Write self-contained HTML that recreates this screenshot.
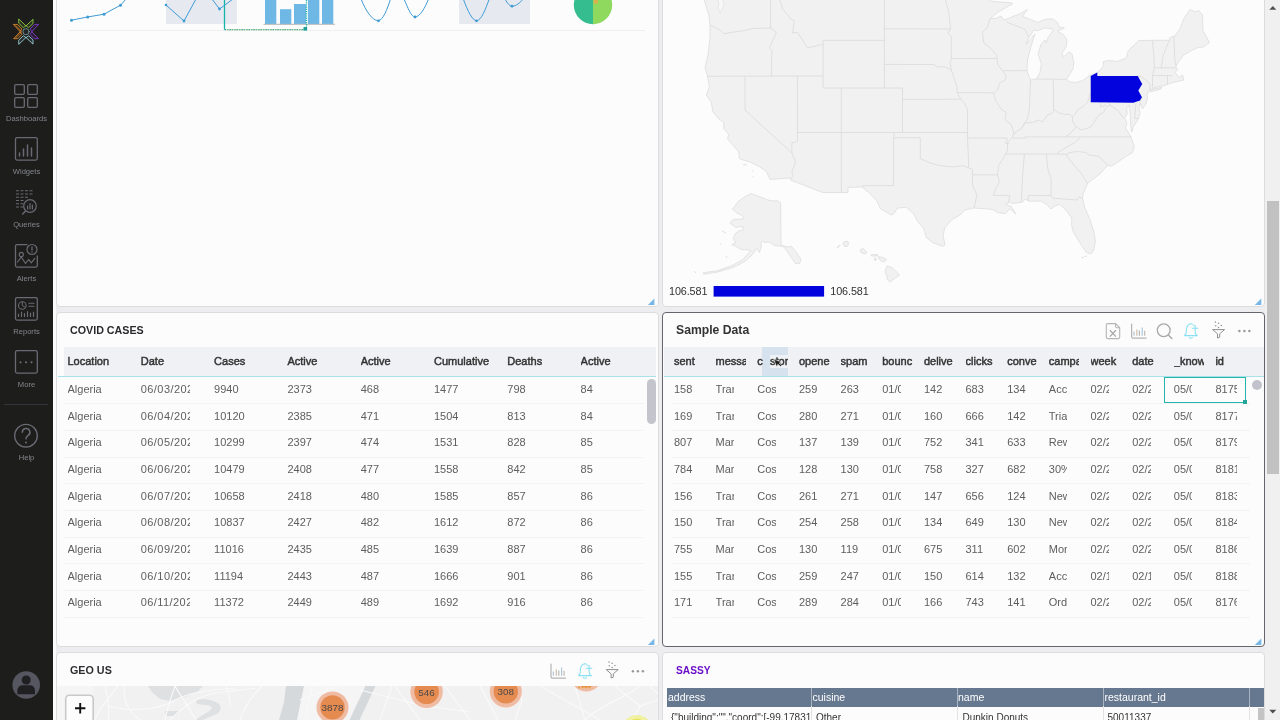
<!DOCTYPE html>
<html>
<head>
<meta charset="utf-8">
<title>Dashboard</title>
<style>
*{box-sizing:border-box;margin:0;padding:0}
html,body{width:1280px;height:720px;overflow:hidden;background:#ededef;font-family:"Liberation Sans",sans-serif;}
body{position:relative}
#root{position:absolute;left:0;top:0;width:1280px;height:720px;overflow:hidden;will-change:transform}
.abs{position:absolute}
#side{position:absolute;left:0;top:0;width:53px;height:720px;background:#1d1d1b}
#sidegap{position:absolute;left:53px;top:0;width:3px;height:720px;background:#fbfbfb}
.nav{position:absolute;left:0;width:53px;text-align:center;color:#85868e;font-size:7.6px;line-height:9px;white-space:nowrap}
.panel{position:absolute;background:#fbfcfb;border:1px solid #dcdcdc;border-radius:4px}
.ptitle{position:absolute;font-weight:bold;color:#2e2e2e;font-size:12px;line-height:14px;white-space:nowrap}
.thead{position:absolute;background:#f0f1f5;height:29px}
.hline{position:absolute;height:1px;background:#a9e1ea}
.th{position:absolute;font-weight:normal;font-size:11px;color:#333;-webkit-text-stroke:0.45px #333;white-space:nowrap;overflow:hidden;line-height:14px;height:14px}
.td{position:absolute;font-size:11px;color:#5e5e5e;white-space:nowrap;overflow:hidden;line-height:14px;height:14px}
.rline{position:absolute;height:1px;background:#f3f3f3}
.sh{color:#fff;font-size:10.5px;line-height:14px;white-space:nowrap}
.sd{color:#333;font-size:10px;line-height:12px;white-space:nowrap}
</style>
</head>
<body>
<div id="root">
<div id="side"></div><div id="sidegap"></div>
<svg class="abs" style="left:0;top:0" width="53" height="720" viewBox="0 0 53 720" fill="none" stroke-linecap="round" stroke-linejoin="round">
<!-- logo -->
<g stroke-width="0.8" transform="translate(26,31.7)">
 <path d="M-7,-12.4 L0,-5.8 L7,-12.4 L7,-8.2 L2.6,-4 L0,-6 L-2.6,-4 L-7,-8.2Z" stroke="#9fe04c" fill="#9fe04c" fill-opacity="0.10"/>
 <path d="M-12.4,-7 L-5.8,0 L-12.4,7 L-8.2,7 L-4,2.6 L-6,0 L-4,-2.6 L-8.2,-7Z" stroke="#f0932f" fill="#f0932f" fill-opacity="0.10"/>
 <path d="M-10,-6 L-4.2,0 L-10,6" stroke="#f0932f" stroke-width="0.6"/>
 <path d="M12.4,-7 L5.8,0 L12.4,7 L8.2,7 L4,2.6 L6,0 L4,-2.6 L8.2,-7Z" stroke="#8b3fe0" fill="#8b3fe0" fill-opacity="0.10"/>
 <path d="M-7,12.4 L0,5.8 L7,12.4 L7,8.2 L2.6,4 L0,6 L-2.6,4 L-7,8.2Z" stroke="#a6e2ee" fill="#a6e2ee" fill-opacity="0.10"/>
 <circle cx="0" cy="0" r="3.1" fill="#252528" stroke="#6f9a98" stroke-width="0.9"/>
</g>
<g stroke="#696a73" stroke-width="1.3">
<!-- dashboards -->
 <rect x="14.7" y="84.7" width="9.6" height="9.6" rx="1.2"/><rect x="27.7" y="84.7" width="9.6" height="9.6" rx="1.2"/>
 <rect x="14.7" y="97.7" width="9.6" height="9.6" rx="1.2"/><rect x="27.7" y="97.7" width="9.6" height="9.6" rx="1.2"/>
<!-- widgets -->
 <rect x="15.5" y="137.7" width="21.8" height="22.4" rx="1.5"/>
 <path d="M19.5,156 v-3 M23.5,156 v-7 M27.5,156 v-11 M31.5,156 v-8" stroke-width="1.5"/>
<!-- queries -->
 <g stroke-width="1.1" stroke-dasharray="3 1.5" stroke-linecap="butt"><path d="M16,190.7 h17.5 M16,194 h17.5 M16,197.2 h12 M16,200.5 h8 M16,203.7 h7.5 M16,207 h7.5"/></g>
 <circle cx="30" cy="206" r="6.3" stroke-width="1.2"/><path d="M25.5,211 l-2.8,3" stroke-width="1.4"/>
 <path d="M27.6,209 v-3 M30,209 v-5.5 M32.4,209 v-4" stroke-width="1.2"/>
<!-- alerts -->
 <path d="M27,244.7 H17 a1.5,1.5 0 0 0 -1.5,1.5 V265.6 a1.5,1.5 0 0 0 1.5,1.5 H35.8 a1.5,1.5 0 0 0 1.5,-1.5 V256" />
 <circle cx="32" cy="249.5" r="5" stroke-width="1.2"/><path d="M32,246.8 v3.2 M32,252 v0.3" stroke-width="1.3"/>
 <circle cx="21.3" cy="254.5" r="2.1" stroke-width="1.1"/>
 <path d="M17.5,262 l3.8,-5 l4.2,6.5 l3.2,-4 l2.6,3.3 l3.5,-4.5" stroke-width="1.2"/>
<!-- reports -->
 <rect x="15.5" y="297.7" width="21.8" height="22.4" rx="1.5"/>
 <circle cx="22.3" cy="305.5" r="3.8" stroke-width="1.1"/><path d="M22.3,302.5 v3 l2.3,1.5" stroke-width="1"/>
 <path d="M29,303.3 h5 M29,306.3 h5" stroke-width="1.1"/>
 <path d="M18.5,316.5 v-2.5 M21.5,316.5 v-4.5 M24.5,316.5 v-3 M27.5,316.5 v-5 M30.5,316.5 v-3.5 M33.5,316.5 v-4.5" stroke-width="1.2"/>
<!-- more -->
 <rect x="15.5" y="350.7" width="21.8" height="22.4" rx="1.5"/>
</g>
<g fill="#696a73"><circle cx="20.5" cy="362.3" r="1.1"/><circle cx="26" cy="362.3" r="1.1"/><circle cx="31.5" cy="362.3" r="1.1"/></g>
<path d="M4,404.5 H48" stroke="#34343a" stroke-width="1"/>
<!-- help -->
<circle cx="26" cy="435.7" r="11.3" stroke="#696a73" stroke-width="1.4"/>
<path d="M22.3,432.3 a3.8,3.8 0 1 1 5.6,3.3 c-1.4,0.9 -1.9,1.6 -1.9,3.2" stroke="#696a73" stroke-width="1.5"/>
<circle cx="26" cy="442.4" r="1" fill="#696a73"/>
<!-- user -->
<circle cx="26.2" cy="685" r="13.8" fill="#55565f"/>
<circle cx="26.2" cy="680" r="4.5" fill="#202023"/>
<path d="M17.4,694.2 v-4 a5,5 0 0 1 5,-5 h7.6 a5,5 0 0 1 5,5 v4Z" fill="#202023"/>
</svg>
<div class="nav" style="top:113.5px">Dashboards</div>
<div class="nav" style="top:166.5px">Widgets</div>
<div class="nav" style="top:220px">Queries</div>
<div class="nav" style="top:273.5px">Alerts</div>
<div class="nav" style="top:326.5px">Reports</div>
<div class="nav" style="top:380px">More</div>
<div class="nav" style="top:453px">Help</div>

<div class="panel" style="left:56px;top:-28px;width:603px;height:335px"></div>
<div class="panel" style="left:662px;top:-28px;width:603px;height:335px"></div>
<div class="panel" style="left:56px;top:312px;width:603px;height:335px"></div>
<div class="panel" style="left:662px;top:312px;width:603px;height:335px;border-color:#63666f"></div>
<div class="panel" style="left:56px;top:652px;width:603px;height:335px"></div>
<div class="panel" style="left:662px;top:652px;width:603px;height:335px"></div>
<svg class="abs" style="left:57px;top:0" width="601" height="40" viewBox="57 0 601 40" fill="none">
<!-- bottom divider -->
<path d="M68,30.5 H645" stroke="#efefef" stroke-width="1"/>
<!-- 1 line chart -->
<path d="M71.5,20.2 L87.5,17 L104,14.2 L120.5,5.2 L126,-1" stroke="#3f9bd6" stroke-width="1"/>
<g fill="#3f9bd6"><circle cx="71.5" cy="20.2" r="1.5"/><circle cx="87.7" cy="17" r="1.5"/><circle cx="104" cy="14.2" r="1.5"/><circle cx="120.5" cy="5.2" r="1.5"/></g>
<!-- 2 area chart -->
<rect x="166" y="0" width="71" height="24" fill="#e6eaf0"/>
<path d="M166,5 L184,21 L196,-1 M212,-1 L219.5,9 L233,-1" stroke="#3f9bd6" stroke-width="1"/>
<g fill="#3f9bd6"><circle cx="166" cy="5" r="1.3"/><circle cx="184" cy="21" r="1.4"/><circle cx="219.5" cy="9" r="1.4"/></g>
<!-- 3 bars -->
<g fill="#6fb8e6"><rect x="265" y="0" width="11.3" height="24"/><rect x="280" y="9.2" width="11.3" height="15"/><rect x="294" y="4" width="12" height="20"/><rect x="308" y="0" width="11.3" height="24"/><rect x="322" y="0" width="11.3" height="24"/></g>
<path d="M263.5,24.3 H335" stroke="#b5b5b5" stroke-width="1"/>
<!-- selection -->
<path d="M224.5,0 V29.5" stroke="#18b3a8" stroke-width="1.3"/><path d="M224.5,29.6 H304.5" stroke="#2aa8a0" stroke-width="1.3" stroke-dasharray="1.6 0.8"/><path d="M225.3,29.6 H304.5" stroke="#b9c46a" stroke-width="1.3" stroke-dasharray="0.8 1.6" stroke-dashoffset="-1.6"/>
<path d="M306.5,0 V27" stroke="#18b3a8" stroke-width="1.3" stroke-dasharray="1.2 1"/>
<rect x="303.5" y="27" width="3.6" height="3.6" fill="#1f9f97"/>
<!-- 4 curves -->
<path d="M361,-1 C366,11 372,20.3 378,20.7 C383,20.3 387,10 390.5,-1 M404,-1 C408,8 411,16.6 415,17.2 C420,16.6 425,8 428.5,-1" stroke="#3f9bd6" stroke-width="1"/>
<g fill="#3f9bd6"><circle cx="378.5" cy="20.8" r="1.4"/><circle cx="415" cy="17" r="1.4"/></g>
<!-- 5 area curves -->
<rect x="459" y="0" width="71" height="24" fill="#e6eaf0"/>
<path d="M463.3,-1 C468,12 472.5,20.4 476.6,20.8 C481.5,20.4 485.5,9 489.3,-1 M505,-1 C507.5,3.5 509.5,6 512.2,6.3 C516,6 520,3 523,-1" stroke="#3f9bd6" stroke-width="1"/>
<g fill="#3f9bd6"><circle cx="476.5" cy="20.8" r="1.4"/><circle cx="512" cy="6.2" r="1.4"/></g>
<!-- 6 pie -->
<path d="M593,-15 V24.2 A19.2,19.2 0 0 1 593,-14.2Z" fill="#35bd8f"/>
<path d="M593,-15 V24.2 A19.2,19.2 0 0 0 593,-14.2Z" fill="#8fd95f"/>
<path d="M593.5,0 h4.5 v3.5 h-4.5Z" fill="#d9b04c"/>
</svg>

<svg class="abs" style="left:663px;top:0" width="601" height="306" viewBox="663 0 601 306" fill="none" stroke-linejoin="round">
<path d="M703.8,-2.0 L987.0,-2.0 L990.0,1.0 L1000.0,2.0 L1010.0,2.6 L1013.0,3.6 L1005.0,8.0 L997.5,12.5 L990.0,18.8 L996.0,18.3 L1001.0,16.0 L1003.8,20.0 L1006.0,19.4 L1013.0,16.5 L1020.0,13.8 L1027.5,9.4 L1022.5,16.3 L1028.8,18.8 L1037.5,22.5 L1045.0,19.4 L1052.5,18.8 L1057.5,22.5 L1059.4,26.9 L1064.4,28.0 L1057.5,31.3 L1063.8,35.0 L1066.9,40.0 L1066.3,46.3 L1062.5,52.5 L1061.9,55.6 L1064.4,56.3 L1068.8,51.9 L1071.9,53.8 L1073.8,62.5 L1073.0,68.8 L1070.0,73.8 L1066.9,78.8 L1066.3,79.4 L1070.0,81.9 L1076.3,82.5 L1082.5,80.6 L1090.6,75.0 L1097.5,72.5 L1102.5,67.5 L1103.8,64.0 L1103.0,61.9 L1107.5,60.6 L1117.5,61.3 L1126.3,58.0 L1128.0,51.3 L1133.0,46.0 L1138.8,40.6 L1152.5,40.3 L1169.4,40.3 L1170.0,37.5 L1174.4,36.3 L1180.0,28.8 L1183.8,18.8 L1190.0,9.4 L1195.0,11.9 L1198.8,10.6 L1202.5,15.0 L1203.0,31.3 L1206.3,36.3 L1209.4,42.5 L1203.8,46.9 L1198.0,47.5 L1192.5,50.0 L1183.8,55.0 L1178.8,61.3 L1175.6,66.3 L1177.5,69.4 L1175.0,72.5 L1178.8,77.5 L1182.5,75.0 L1183.8,80.0 L1178.8,81.3 L1172.5,82.5 L1166.3,85.0 L1155.0,87.5 L1150.0,90.0 L1156.0,88.6 L1162.0,87.3 L1161.0,89.0 L1151.0,91.8 L1148.9,90.5 L1146.7,95.6 L1147.8,97.8 L1145.6,104.4 L1142.2,108.9 L1141.2,104.5 L1140.2,103.0 L1138.8,107.0 L1140.0,113.3 L1137.8,120.0 L1133.3,126.7 L1131.7,132.2 L1130.6,124.0 L1130.2,114.0 L1129.0,105.0 L1126.6,108.0 L1127.2,114.0 L1124.5,118.0 L1127.0,123.0 L1125.5,128.0 L1128.0,132.0 L1130.6,136.3 L1134.4,146.3 L1132.5,152.5 L1126.3,156.3 L1118.8,161.3 L1111.3,166.3 L1107.6,165.3 L1100.0,173.8 L1087.8,183.0 L1083.2,193.6 L1082.4,198.2 L1084.7,207.4 L1090.0,219.6 L1093.9,231.8 L1095.4,241.0 L1093.9,250.0 L1090.8,254.0 L1086.3,252.4 L1081.7,245.6 L1077.0,238.0 L1073.3,231.8 L1071.7,225.7 L1071.7,218.0 L1066.4,210.4 L1059.5,204.3 L1055.0,206.0 L1051.0,208.9 L1046.5,204.3 L1040.4,201.0 L1029.7,201.3 L1025.0,199.0 L1022.8,202.0 L1016.0,203.0 L1011.4,203.5 L1009.9,202.0 L1005.3,204.3 L1011.4,206.6 L1016.0,214.2 L1009.9,208.9 L1005.3,213.5 L997.6,212.7 L992.5,209.4 L985.0,208.8 L973.8,208.0 L965.0,210.0 L960.0,215.0 L951.3,220.0 L945.0,227.5 L943.0,235.0 L945.0,245.0 L942.5,246.3 L932.5,242.5 L926.3,237.5 L923.8,228.8 L917.5,221.3 L913.8,213.8 L906.3,207.3 L897.5,208.0 L893.8,213.8 L891.3,215.0 L880.6,208.8 L876.3,200.0 L868.8,192.5 L862.0,187.0 L848.0,187.4 L848.0,192.5 L822.5,192.5 L790.6,180.0 L790.6,178.0 L770.0,179.4 L766.3,171.3 L758.8,166.3 L750.0,162.0 L739.4,158.8 L738.8,152.0 L727.5,138.8 L728.8,134.4 L723.8,128.8 L723.8,122.5 L718.8,118.8 L713.0,112.0 L711.3,102.5 L706.3,95.0 L709.4,86.3 L707.5,76.0 L705.0,67.5 L708.0,55.0 L710.0,37.5 L710.0,25.0 L708.8,15.0 L706.0,6.0Z" fill="#f0f1f0" stroke="#dcdddc" stroke-width="0.8"/>
<path d="M1052.5,29.0 L1045.0,28.0 L1037.5,30.6 L1033.8,30.0 L1030.0,36.3 L1028.8,37.5 L1026.0,44.4 L1031.0,38.5 L1035.0,33.8 L1032.0,43.0 L1030.0,50.0 L1027.5,60.0 L1026.9,70.0 L1028.8,76.3 L1031.3,80.0 L1036.3,78.8 L1040.0,72.5 L1041.3,63.8 L1038.0,53.8 L1041.3,43.8 L1045.0,40.0 L1046.3,43.0 L1048.0,37.5 L1052.5,31.3 L1053.0,29.4Z" fill="#fbfcfb" stroke="#dcdddc" stroke-width="0.8"/>
<path d="M717.0,-2.0 L719.0,3.0 L718.0,8.0 L720.5,13.0 L722.0,9.0 L724.0,5.0 L723.0,-2.0Z" fill="#f6f7f6" stroke="#dcdddc" stroke-width="0.6"/>
<path d="M751.1,193.5 L756.0,195.5 L762.2,197.6 L767.0,199.8 L773.3,201.1 L776.5,200.6 L780.6,202.7 L781.0,244.9 L787.2,247.0 L791.4,246.3 L796.0,252.0 L801.0,259.4 L799.7,263.6 L795.6,263.6 L791.0,257.0 L787.2,251.0 L783.0,246.3 L774.7,245.6 L769.2,242.0 L765.5,242.6 L762.2,241.4 L760.8,243.0 L761.5,246.0 L759.4,252.5 L757.8,250.0 L756.7,248.3 L752.0,255.0 L745.6,260.8 L739.0,264.7 L731.7,267.8 L717.8,272.0 L703.9,274.3 L703.0,272.8 L717.8,270.6 L731.7,265.7 L737.5,262.6 L742.8,259.4 L747.0,255.0 L751.1,250.4 L745.6,249.7 L741.4,249.7 L737.5,247.5 L734.4,245.6 L731.7,244.9 L733.5,243.5 L735.8,242.8 L733.0,238.6 L735.8,233.0 L739.0,231.0 L742.8,230.3 L743.2,226.8 L739.0,226.6 L735.8,227.5 L730.3,223.3 L732.0,220.5 L734.4,219.2 L742.8,219.2 L743.0,216.5 L740.0,214.3 L736.0,212.5 L732.4,208.8 L735.0,206.3 L738.6,201.1 L745.6,196.3Z" fill="#f0f1f0" stroke="#dcdddc" stroke-width="0.8"/>
<path d="M837.0,247.5 L839.6,245.0 L840.0,245.5 L837.5,248.0Z M843.0,243.0 L845.0,241.3 L847.8,241.5 L848.6,243.8 L847.3,246.3 L844.5,246.5Z M860.0,250.0 L863.3,248.3 L865.0,250.5 L867.0,252.5 L865.0,253.8 L861.7,253.0Z M871.3,254.6 L877.5,254.6 L877.5,256.0 L871.3,256.0Z M874.4,258.3 L876.4,258.5 L876.2,260.2 L874.6,260.2Z M878.3,256.7 L883.3,257.5 L886.7,259.6 L884.2,262.0 L881.7,261.3 L879.2,259.2Z M887.0,265.8 L892.5,268.0 L896.0,271.5 L899.6,275.0 L895.0,278.3 L890.0,282.0 L887.5,280.0 L886.7,275.0 L885.0,271.7Z" fill="#f0f1f0" stroke="#dcdddc" stroke-width="0.8"/>
<path d="M710.0,25.0 L720.0,30.0 L723.8,33.8 L733.8,32.0 L743.8,30.6 L752.5,28.5 L771.3,28.0 M770.6,-2.0 L770.6,28.0 L776.3,32.5 L769.4,48.0 L771.9,50.6 L771.3,76.0 M707.5,76.3 L745.0,76.2 L797.4,76.0 L823.1,76.0 M779.4,-2.0 L782.5,8.8 L791.3,19.4 L794.4,20.6 L792.5,33.0 L797.5,32.3 L807.5,48.0 L821.9,44.4 L823.1,46.0 M823.1,40.4 L823.1,88.0 M823.1,40.4 L884.4,40.4 M884.4,-2.0 L884.4,88.0 M823.1,88.0 L902.5,88.0 L902.5,132.5 M745.0,76.2 L745.0,110.0 L791.9,153.0 M797.4,76.0 L797.5,141.3 L795.0,142.0 L791.9,143.0 L791.9,153.0 L795.6,162.0 L792.0,171.3 L792.5,177.0 L790.6,178.8 M797.5,132.5 L841.3,132.5 L902.5,132.5 L967.5,132.5 M841.3,88.0 L841.3,192.5 M884.4,28.8 L950.6,29.0 M884.4,64.4 L933.8,64.5 L937.5,66.9 L945.0,66.9 L951.3,70.0 M945.0,-2.0 L948.8,12.5 L950.6,28.8 L948.0,33.0 L951.3,37.0 L951.3,58.8 L950.0,62.5 L951.3,70.0 L953.8,77.5 L956.9,86.0 L957.3,92.5 L960.6,99.0 L964.4,103.0 L967.5,109.4 L967.5,138.0 L968.8,168.0 M951.3,58.6 L996.9,58.5 M990.0,18.8 L987.5,26.9 L982.5,32.5 L983.8,43.0 L991.3,48.8 L996.9,55.6 L996.9,58.5 L998.0,65.0 L1003.0,71.3 L1006.3,76.3 L1005.0,80.0 L999.4,83.5 L998.0,89.4 L993.8,93.0 L995.6,100.6 L1001.9,110.0 L1006.3,112.5 L1005.0,119.4 L1011.3,125.0 L1013.8,132.5 L1012.5,137.5 L1007.5,142.5 L1007.5,150.0 L1003.8,157.5 L998.8,165.0 L997.5,175.0 L999.4,182.0 L995.6,188.8 L993.4,195.4 M1003.0,70.7 L1027.0,70.6 M1006.3,21.9 L1025.0,29.4 L1027.5,35.0 L1028.8,37.5 M957.3,92.6 L993.8,92.8 M902.5,99.4 L960.6,99.2 M1030.6,79.6 L1029.4,108.8 L1028.0,117.5 L1025.0,122.5 L1021.3,128.8 M1036.3,79.0 L1066.3,79.4 M1053.3,79.3 L1053.6,109.4 M1013.8,135.0 L1016.3,131.3 L1021.3,128.8 L1025.0,123.0 L1032.5,122.5 L1038.8,120.0 L1042.5,122.0 L1047.5,115.0 L1052.5,113.0 L1053.8,109.4 L1058.8,113.0 L1065.0,114.4 L1070.0,114.4 L1072.5,117.0 L1075.0,114.4 L1077.5,110.0 L1082.5,106.9 L1087.5,102.5 L1089.4,96.3 L1090.6,92.0 M1090.6,75.0 L1090.6,102.5 M1072.5,117.0 L1072.5,121.3 L1076.3,126.9 L1070.0,133.8 L1065.0,136.9 M1076.3,126.9 L1081.3,130.0 L1090.0,127.5 L1093.8,122.5 L1098.8,115.0 L1103.8,112.0 L1106.3,107.5 L1110.0,105.0 L1108.8,102.5 M1100.6,102.5 L1100.6,107.0 L1106.3,105.0 M1110.0,105.0 L1118.8,111.3 L1123.8,118.8 M1136.0,102.6 L1134.6,118.3 L1138.6,118.6 M1012.5,138.1 L1025.0,138.1 L1025.0,136.9 L1131.3,136.9 M1080.0,137.5 L1075.0,142.5 L1065.0,148.0 L1058.8,152.0 L1057.5,154.0 M1006.0,154.0 L1057.5,154.0 L1066.3,154.4 M1066.3,154.4 L1070.0,152.5 L1077.5,151.5 L1086.3,152.5 L1088.8,155.0 L1098.8,156.3 L1107.6,165.3 M1066.3,154.4 L1068.0,157.5 L1075.0,166.3 L1081.7,173.8 L1087.5,183.4 M1024.4,154.0 L1023.0,170.0 L1021.3,201.3 M1046.3,154.4 L1048.0,170.0 L1051.1,178.3 L1051.1,195.4 M1028.2,201.0 L1028.2,195.4 L1051.1,195.6 L1052.6,198.2 L1077.0,200.0 L1078.6,197.4 L1082.4,198.2 M967.5,138.0 L1006.9,138.0 L1007.5,140.0 L1005.0,143.0 L1009.0,143.6 M972.5,174.8 L997.5,174.8 M993.4,195.4 L1009.9,195.4 L1008.3,202.8 M893.8,132.5 L893.8,137.8 L920.3,137.8 L920.3,158.8 L925.0,160.6 L930.0,163.0 L940.0,165.6 L946.3,166.3 L953.8,166.9 L962.5,165.6 L968.8,168.0 L972.5,169.4 L972.5,185.0 L976.9,195.0 L975.0,203.8 L973.8,208.0 M893.6,137.8 L893.5,185.6 L862.5,185.6 L862.0,187.0 M1152.5,40.3 L1153.8,56.3 L1154.4,68.0 L1152.5,75.0 L1152.5,87.8 M1169.4,40.3 L1166.3,47.5 L1163.0,56.3 L1161.3,67.7 M1174.4,36.3 L1173.8,38.0 L1175.0,61.3 L1176.3,66.3 M1154.4,67.8 L1175.6,67.8 M1152.5,75.6 L1172.5,75.6 M1167.5,75.6 L1167.5,84.5 M1137.5,76.0 L1141.0,76.5 L1146.0,80.0 L1150.0,84.0 L1150.0,90.0 M1141.9,83.8 L1138.0,91.3 L1141.9,97.5 L1139.4,102.5 L1141.0,106.0" stroke="#dcdddc" stroke-width="0.9"/>
<path d="M1090.8,76.1 L1097.3,72.6 L1097.3,76.1 L1137.8,76.1 L1139.4,78.9 L1142.2,83.9 L1138.3,90.6 L1141.9,97.2 L1140.0,100.6 L1133.3,102.7 L1090.8,102.3Z" fill="#0303de"/>
<path d="M743,164.8 h4 M752,170.5 l1.5,1 M752.5,176 l1,1.2 M1081.5,257.8 l2.5,-0.8 M1085,256.6 l2,-0.6 M722,231 l4,2 M720,243.5 l1.5,1 M726,256 l1,2 M694,271 l2,2" stroke="#dcdddc" stroke-width="0.9"/>
<rect x="713.6" y="286" width="110.5" height="10.6" fill="#0303de"/>
</svg>
<div class="abs" style="left:669px;top:284.5px;font-size:10.8px;line-height:13px;color:#303030;letter-spacing:-0.1px">106.581</div>
<div class="abs" style="left:830.3px;top:284.5px;font-size:10.8px;line-height:13px;color:#303030;letter-spacing:-0.1px">106.581</div>
<div class="ptitle" style="left:70px;top:322.5px;font-size:11.8px;color:#2a2a2e;transform:scaleX(0.907);transform-origin:0 0">COVID CASES</div>
<div class="thead" style="left:64px;top:347px;width:592px"></div>
<div class="hline" style="left:58px;top:376.4px;width:598px"></div>
<div class="th" style="left:67.5px;top:354px;width:60px">Location</div>
<div class="th" style="left:140.8px;top:354px;width:60px">Date</div>
<div class="th" style="left:214.1px;top:354px;width:60px">Cases</div>
<div class="th" style="left:287.4px;top:354px;width:60px">Active</div>
<div class="th" style="left:360.7px;top:354px;width:60px">Active</div>
<div class="th" style="left:434.0px;top:354px;width:60px">Cumulative</div>
<div class="th" style="left:507.3px;top:354px;width:60px">Deaths</div>
<div class="th" style="left:580.6px;top:354px;width:60px">Active</div>
<div class="td" style="left:67.5px;top:381.9px;width:49.6px;">Algeria</div>
<div class="td" style="left:140.8px;top:381.9px;width:49.6px; letter-spacing:0.42px;">06/03/2020</div>
<div class="td" style="left:214.1px;top:381.9px;width:49.6px;">9940</div>
<div class="td" style="left:287.4px;top:381.9px;width:49.6px;">2373</div>
<div class="td" style="left:360.7px;top:381.9px;width:49.6px;">468</div>
<div class="td" style="left:434.0px;top:381.9px;width:49.6px;">1477</div>
<div class="td" style="left:507.3px;top:381.9px;width:49.6px;">798</div>
<div class="td" style="left:580.6px;top:381.9px;width:49.6px;">84</div>
<div class="rline" style="left:64px;top:403.2px;width:580px"></div>
<div class="td" style="left:67.5px;top:408.6px;width:49.6px;">Algeria</div>
<div class="td" style="left:140.8px;top:408.6px;width:49.6px; letter-spacing:0.42px;">06/04/2020</div>
<div class="td" style="left:214.1px;top:408.6px;width:49.6px;">10120</div>
<div class="td" style="left:287.4px;top:408.6px;width:49.6px;">2385</div>
<div class="td" style="left:360.7px;top:408.6px;width:49.6px;">471</div>
<div class="td" style="left:434.0px;top:408.6px;width:49.6px;">1504</div>
<div class="td" style="left:507.3px;top:408.6px;width:49.6px;">813</div>
<div class="td" style="left:580.6px;top:408.6px;width:49.6px;">84</div>
<div class="rline" style="left:64px;top:429.8px;width:580px"></div>
<div class="td" style="left:67.5px;top:435.2px;width:49.6px;">Algeria</div>
<div class="td" style="left:140.8px;top:435.2px;width:49.6px; letter-spacing:0.42px;">06/05/2020</div>
<div class="td" style="left:214.1px;top:435.2px;width:49.6px;">10299</div>
<div class="td" style="left:287.4px;top:435.2px;width:49.6px;">2397</div>
<div class="td" style="left:360.7px;top:435.2px;width:49.6px;">474</div>
<div class="td" style="left:434.0px;top:435.2px;width:49.6px;">1531</div>
<div class="td" style="left:507.3px;top:435.2px;width:49.6px;">828</div>
<div class="td" style="left:580.6px;top:435.2px;width:49.6px;">85</div>
<div class="rline" style="left:64px;top:456.5px;width:580px"></div>
<div class="td" style="left:67.5px;top:461.9px;width:49.6px;">Algeria</div>
<div class="td" style="left:140.8px;top:461.9px;width:49.6px; letter-spacing:0.42px;">06/06/2020</div>
<div class="td" style="left:214.1px;top:461.9px;width:49.6px;">10479</div>
<div class="td" style="left:287.4px;top:461.9px;width:49.6px;">2408</div>
<div class="td" style="left:360.7px;top:461.9px;width:49.6px;">477</div>
<div class="td" style="left:434.0px;top:461.9px;width:49.6px;">1558</div>
<div class="td" style="left:507.3px;top:461.9px;width:49.6px;">842</div>
<div class="td" style="left:580.6px;top:461.9px;width:49.6px;">85</div>
<div class="rline" style="left:64px;top:483.2px;width:580px"></div>
<div class="td" style="left:67.5px;top:488.6px;width:49.6px;">Algeria</div>
<div class="td" style="left:140.8px;top:488.6px;width:49.6px; letter-spacing:0.42px;">06/07/2020</div>
<div class="td" style="left:214.1px;top:488.6px;width:49.6px;">10658</div>
<div class="td" style="left:287.4px;top:488.6px;width:49.6px;">2418</div>
<div class="td" style="left:360.7px;top:488.6px;width:49.6px;">480</div>
<div class="td" style="left:434.0px;top:488.6px;width:49.6px;">1585</div>
<div class="td" style="left:507.3px;top:488.6px;width:49.6px;">857</div>
<div class="td" style="left:580.6px;top:488.6px;width:49.6px;">86</div>
<div class="rline" style="left:64px;top:509.9px;width:580px"></div>
<div class="td" style="left:67.5px;top:515.2px;width:49.6px;">Algeria</div>
<div class="td" style="left:140.8px;top:515.2px;width:49.6px; letter-spacing:0.42px;">06/08/2020</div>
<div class="td" style="left:214.1px;top:515.2px;width:49.6px;">10837</div>
<div class="td" style="left:287.4px;top:515.2px;width:49.6px;">2427</div>
<div class="td" style="left:360.7px;top:515.2px;width:49.6px;">482</div>
<div class="td" style="left:434.0px;top:515.2px;width:49.6px;">1612</div>
<div class="td" style="left:507.3px;top:515.2px;width:49.6px;">872</div>
<div class="td" style="left:580.6px;top:515.2px;width:49.6px;">86</div>
<div class="rline" style="left:64px;top:536.5px;width:580px"></div>
<div class="td" style="left:67.5px;top:541.9px;width:49.6px;">Algeria</div>
<div class="td" style="left:140.8px;top:541.9px;width:49.6px; letter-spacing:0.42px;">06/09/2020</div>
<div class="td" style="left:214.1px;top:541.9px;width:49.6px;">11016</div>
<div class="td" style="left:287.4px;top:541.9px;width:49.6px;">2435</div>
<div class="td" style="left:360.7px;top:541.9px;width:49.6px;">485</div>
<div class="td" style="left:434.0px;top:541.9px;width:49.6px;">1639</div>
<div class="td" style="left:507.3px;top:541.9px;width:49.6px;">887</div>
<div class="td" style="left:580.6px;top:541.9px;width:49.6px;">86</div>
<div class="rline" style="left:64px;top:563.2px;width:580px"></div>
<div class="td" style="left:67.5px;top:568.6px;width:49.6px;">Algeria</div>
<div class="td" style="left:140.8px;top:568.6px;width:49.6px; letter-spacing:0.42px;">06/10/2020</div>
<div class="td" style="left:214.1px;top:568.6px;width:49.6px;">11194</div>
<div class="td" style="left:287.4px;top:568.6px;width:49.6px;">2443</div>
<div class="td" style="left:360.7px;top:568.6px;width:49.6px;">487</div>
<div class="td" style="left:434.0px;top:568.6px;width:49.6px;">1666</div>
<div class="td" style="left:507.3px;top:568.6px;width:49.6px;">901</div>
<div class="td" style="left:580.6px;top:568.6px;width:49.6px;">86</div>
<div class="rline" style="left:64px;top:589.9px;width:580px"></div>
<div class="td" style="left:67.5px;top:595.3px;width:49.6px;">Algeria</div>
<div class="td" style="left:140.8px;top:595.3px;width:49.6px; letter-spacing:0.42px;">06/11/2020</div>
<div class="td" style="left:214.1px;top:595.3px;width:49.6px;">11372</div>
<div class="td" style="left:287.4px;top:595.3px;width:49.6px;">2449</div>
<div class="td" style="left:360.7px;top:595.3px;width:49.6px;">489</div>
<div class="td" style="left:434.0px;top:595.3px;width:49.6px;">1692</div>
<div class="td" style="left:507.3px;top:595.3px;width:49.6px;">916</div>
<div class="td" style="left:580.6px;top:595.3px;width:49.6px;">86</div>
<div class="rline" style="left:64px;top:616.5px;width:580px"></div>
<div class="abs" style="left:647px;top:379px;width:9px;height:45px;border-radius:4.5px;background:#c4c4cc"></div>
<div class="ptitle" style="left:676px;top:323px;font-size:12.2px;color:#333">Sample Data</div>
<div class="thead" style="left:664px;top:347px;width:600px"></div>
<div class="hline" style="left:664px;top:376.4px;width:600px"></div>
<div class="abs" style="left:762px;top:347px;width:25.5px;height:29px;background:#d6e3ef"></div>
<div class="abs" style="left:770px;top:354.5px;width:17.5px;height:13.5px;background:#eef1f6"></div>
<div class="th" style="left:674.0px;top:354px;width:30.5px">sent</div>
<div class="th" style="left:715.6px;top:354px;width:30.5px">messa</div>
<div class="th" style="left:757.3px;top:354px;width:30.5px">c</div>
<div class="th" style="left:799.0px;top:354px;width:30.5px">opene</div>
<div class="th" style="left:840.6px;top:354px;width:30.5px">spam</div>
<div class="th" style="left:882.2px;top:354px;width:30.5px">bounc</div>
<div class="th" style="left:923.9px;top:354px;width:30.5px">delive</div>
<div class="th" style="left:965.5px;top:354px;width:30.5px">clicks</div>
<div class="th" style="left:1007.2px;top:354px;width:30.5px">conve</div>
<div class="th" style="left:1048.8px;top:354px;width:30.5px">campa</div>
<div class="th" style="left:1090.5px;top:354px;width:30.5px">week</div>
<div class="th" style="left:1132.2px;top:354px;width:30.5px">date</div>
<div class="th" style="left:1173.8px;top:354px;width:30.5px">_know</div>
<div class="th" style="left:1215.4px;top:354px;width:30.5px">id</div>
<div class="th" style="left:770px;top:354px;width:17.5px">stor</div>
<svg class="abs" style="left:772px;top:355px" width="14" height="14" viewBox="0 0 14 14"><path d="M3 3 L3 11 L5.2 9 L6.8 12.2 L8.2 11.5 L6.7 8.4 L9.6 8.2Z" fill="#222" stroke="#fff" stroke-width="0.5" transform="rotate(-20 6 7)"/></svg>
<div class="td" style="left:674.0px;top:381.9px;width:18.5px">158</div>
<div class="td" style="left:715.6px;top:381.9px;width:18.5px">Trans</div>
<div class="td" style="left:757.3px;top:381.9px;width:18.5px">Cost</div>
<div class="td" style="left:799.0px;top:381.9px;width:18.5px">259</div>
<div class="td" style="left:840.6px;top:381.9px;width:18.5px">263</div>
<div class="td" style="left:882.2px;top:381.9px;width:18.5px">01/0</div>
<div class="td" style="left:923.9px;top:381.9px;width:18.5px">142</div>
<div class="td" style="left:965.5px;top:381.9px;width:18.5px">683</div>
<div class="td" style="left:1007.2px;top:381.9px;width:18.5px">134</div>
<div class="td" style="left:1048.8px;top:381.9px;width:18.5px">Acco</div>
<div class="td" style="left:1090.5px;top:381.9px;width:18.5px">02/2</div>
<div class="td" style="left:1132.2px;top:381.9px;width:18.5px">02/2</div>
<div class="td" style="left:1173.8px;top:381.9px;width:18.5px">05/0</div>
<div class="td" style="left:1215.4px;top:381.9px;width:22px">81751</div>
<div class="rline" style="left:672px;top:403.2px;width:578px"></div>
<div class="td" style="left:674.0px;top:408.6px;width:18.5px">169</div>
<div class="td" style="left:715.6px;top:408.6px;width:18.5px">Trans</div>
<div class="td" style="left:757.3px;top:408.6px;width:18.5px">Cost</div>
<div class="td" style="left:799.0px;top:408.6px;width:18.5px">280</div>
<div class="td" style="left:840.6px;top:408.6px;width:18.5px">271</div>
<div class="td" style="left:882.2px;top:408.6px;width:18.5px">01/0</div>
<div class="td" style="left:923.9px;top:408.6px;width:18.5px">160</div>
<div class="td" style="left:965.5px;top:408.6px;width:18.5px">666</div>
<div class="td" style="left:1007.2px;top:408.6px;width:18.5px">142</div>
<div class="td" style="left:1048.8px;top:408.6px;width:18.5px">Tria</div>
<div class="td" style="left:1090.5px;top:408.6px;width:18.5px">02/2</div>
<div class="td" style="left:1132.2px;top:408.6px;width:18.5px">02/2</div>
<div class="td" style="left:1173.8px;top:408.6px;width:18.5px">05/0</div>
<div class="td" style="left:1215.4px;top:408.6px;width:22px">81772</div>
<div class="rline" style="left:672px;top:429.8px;width:578px"></div>
<div class="td" style="left:674.0px;top:435.2px;width:18.5px">807</div>
<div class="td" style="left:715.6px;top:435.2px;width:18.5px">Mark</div>
<div class="td" style="left:757.3px;top:435.2px;width:18.5px">Cost</div>
<div class="td" style="left:799.0px;top:435.2px;width:18.5px">137</div>
<div class="td" style="left:840.6px;top:435.2px;width:18.5px">139</div>
<div class="td" style="left:882.2px;top:435.2px;width:18.5px">01/0</div>
<div class="td" style="left:923.9px;top:435.2px;width:18.5px">752</div>
<div class="td" style="left:965.5px;top:435.2px;width:18.5px">341</div>
<div class="td" style="left:1007.2px;top:435.2px;width:18.5px">633</div>
<div class="td" style="left:1048.8px;top:435.2px;width:18.5px">Rewa</div>
<div class="td" style="left:1090.5px;top:435.2px;width:18.5px">02/2</div>
<div class="td" style="left:1132.2px;top:435.2px;width:18.5px">02/2</div>
<div class="td" style="left:1173.8px;top:435.2px;width:18.5px">05/0</div>
<div class="td" style="left:1215.4px;top:435.2px;width:22px">81793</div>
<div class="rline" style="left:672px;top:456.5px;width:578px"></div>
<div class="td" style="left:674.0px;top:461.9px;width:18.5px">784</div>
<div class="td" style="left:715.6px;top:461.9px;width:18.5px">Mark</div>
<div class="td" style="left:757.3px;top:461.9px;width:18.5px">Cost</div>
<div class="td" style="left:799.0px;top:461.9px;width:18.5px">128</div>
<div class="td" style="left:840.6px;top:461.9px;width:18.5px">130</div>
<div class="td" style="left:882.2px;top:461.9px;width:18.5px">01/0</div>
<div class="td" style="left:923.9px;top:461.9px;width:18.5px">758</div>
<div class="td" style="left:965.5px;top:461.9px;width:18.5px">327</div>
<div class="td" style="left:1007.2px;top:461.9px;width:18.5px">682</div>
<div class="td" style="left:1048.8px;top:461.9px;width:18.5px">30% </div>
<div class="td" style="left:1090.5px;top:461.9px;width:18.5px">02/2</div>
<div class="td" style="left:1132.2px;top:461.9px;width:18.5px">02/2</div>
<div class="td" style="left:1173.8px;top:461.9px;width:18.5px">05/0</div>
<div class="td" style="left:1215.4px;top:461.9px;width:22px">81811</div>
<div class="rline" style="left:672px;top:483.2px;width:578px"></div>
<div class="td" style="left:674.0px;top:488.6px;width:18.5px">156</div>
<div class="td" style="left:715.6px;top:488.6px;width:18.5px">Trans</div>
<div class="td" style="left:757.3px;top:488.6px;width:18.5px">Cost</div>
<div class="td" style="left:799.0px;top:488.6px;width:18.5px">261</div>
<div class="td" style="left:840.6px;top:488.6px;width:18.5px">271</div>
<div class="td" style="left:882.2px;top:488.6px;width:18.5px">01/0</div>
<div class="td" style="left:923.9px;top:488.6px;width:18.5px">147</div>
<div class="td" style="left:965.5px;top:488.6px;width:18.5px">656</div>
<div class="td" style="left:1007.2px;top:488.6px;width:18.5px">124</div>
<div class="td" style="left:1048.8px;top:488.6px;width:18.5px">New </div>
<div class="td" style="left:1090.5px;top:488.6px;width:18.5px">02/2</div>
<div class="td" style="left:1132.2px;top:488.6px;width:18.5px">02/2</div>
<div class="td" style="left:1173.8px;top:488.6px;width:18.5px">05/0</div>
<div class="td" style="left:1215.4px;top:488.6px;width:22px">81836</div>
<div class="rline" style="left:672px;top:509.9px;width:578px"></div>
<div class="td" style="left:674.0px;top:515.2px;width:18.5px">150</div>
<div class="td" style="left:715.6px;top:515.2px;width:18.5px">Trans</div>
<div class="td" style="left:757.3px;top:515.2px;width:18.5px">Cost</div>
<div class="td" style="left:799.0px;top:515.2px;width:18.5px">254</div>
<div class="td" style="left:840.6px;top:515.2px;width:18.5px">258</div>
<div class="td" style="left:882.2px;top:515.2px;width:18.5px">01/0</div>
<div class="td" style="left:923.9px;top:515.2px;width:18.5px">134</div>
<div class="td" style="left:965.5px;top:515.2px;width:18.5px">649</div>
<div class="td" style="left:1007.2px;top:515.2px;width:18.5px">130</div>
<div class="td" style="left:1048.8px;top:515.2px;width:18.5px">New </div>
<div class="td" style="left:1090.5px;top:515.2px;width:18.5px">02/2</div>
<div class="td" style="left:1132.2px;top:515.2px;width:18.5px">02/2</div>
<div class="td" style="left:1173.8px;top:515.2px;width:18.5px">05/0</div>
<div class="td" style="left:1215.4px;top:515.2px;width:22px">81848</div>
<div class="rline" style="left:672px;top:536.5px;width:578px"></div>
<div class="td" style="left:674.0px;top:541.9px;width:18.5px">755</div>
<div class="td" style="left:715.6px;top:541.9px;width:18.5px">Mark</div>
<div class="td" style="left:757.3px;top:541.9px;width:18.5px">Cost</div>
<div class="td" style="left:799.0px;top:541.9px;width:18.5px">130</div>
<div class="td" style="left:840.6px;top:541.9px;width:18.5px">119</div>
<div class="td" style="left:882.2px;top:541.9px;width:18.5px">01/0</div>
<div class="td" style="left:923.9px;top:541.9px;width:18.5px">675</div>
<div class="td" style="left:965.5px;top:541.9px;width:18.5px">311</div>
<div class="td" style="left:1007.2px;top:541.9px;width:18.5px">602</div>
<div class="td" style="left:1048.8px;top:541.9px;width:18.5px">Mont</div>
<div class="td" style="left:1090.5px;top:541.9px;width:18.5px">02/2</div>
<div class="td" style="left:1132.2px;top:541.9px;width:18.5px">02/2</div>
<div class="td" style="left:1173.8px;top:541.9px;width:18.5px">05/0</div>
<div class="td" style="left:1215.4px;top:541.9px;width:22px">81869</div>
<div class="rline" style="left:672px;top:563.2px;width:578px"></div>
<div class="td" style="left:674.0px;top:568.6px;width:18.5px">155</div>
<div class="td" style="left:715.6px;top:568.6px;width:18.5px">Trans</div>
<div class="td" style="left:757.3px;top:568.6px;width:18.5px">Cost</div>
<div class="td" style="left:799.0px;top:568.6px;width:18.5px">259</div>
<div class="td" style="left:840.6px;top:568.6px;width:18.5px">247</div>
<div class="td" style="left:882.2px;top:568.6px;width:18.5px">01/0</div>
<div class="td" style="left:923.9px;top:568.6px;width:18.5px">150</div>
<div class="td" style="left:965.5px;top:568.6px;width:18.5px">614</div>
<div class="td" style="left:1007.2px;top:568.6px;width:18.5px">132</div>
<div class="td" style="left:1048.8px;top:568.6px;width:18.5px">Acco</div>
<div class="td" style="left:1090.5px;top:568.6px;width:18.5px">02/1</div>
<div class="td" style="left:1132.2px;top:568.6px;width:18.5px">02/1</div>
<div class="td" style="left:1173.8px;top:568.6px;width:18.5px">05/0</div>
<div class="td" style="left:1215.4px;top:568.6px;width:22px">81888</div>
<div class="rline" style="left:672px;top:589.9px;width:578px"></div>
<div class="td" style="left:674.0px;top:595.3px;width:18.5px">171</div>
<div class="td" style="left:715.6px;top:595.3px;width:18.5px">Trans</div>
<div class="td" style="left:757.3px;top:595.3px;width:18.5px">Cost</div>
<div class="td" style="left:799.0px;top:595.3px;width:18.5px">289</div>
<div class="td" style="left:840.6px;top:595.3px;width:18.5px">284</div>
<div class="td" style="left:882.2px;top:595.3px;width:18.5px">01/0</div>
<div class="td" style="left:923.9px;top:595.3px;width:18.5px">166</div>
<div class="td" style="left:965.5px;top:595.3px;width:18.5px">743</div>
<div class="td" style="left:1007.2px;top:595.3px;width:18.5px">141</div>
<div class="td" style="left:1048.8px;top:595.3px;width:18.5px">Orde</div>
<div class="td" style="left:1090.5px;top:595.3px;width:18.5px">02/2</div>
<div class="td" style="left:1132.2px;top:595.3px;width:18.5px">02/2</div>
<div class="td" style="left:1173.8px;top:595.3px;width:18.5px">05/0</div>
<div class="td" style="left:1215.4px;top:595.3px;width:22px">81769</div>
<div class="rline" style="left:672px;top:616.5px;width:578px"></div>
<div class="abs" style="left:1163.7px;top:376.8px;width:82.5px;height:26.4px;border:1.6px solid #24b5ac"></div>
<div class="abs" style="left:1242.8px;top:399.6px;width:4px;height:4px;background:#24a59c"></div>
<div class="abs" style="left:1252px;top:380px;width:10px;height:10px;border-radius:5px;background:#c2c2cc"></div>
<svg class="abs" style="left:0;top:0" width="1280" height="720" viewBox="0 0 1280 720">
<path d="M1107.8,323.6 H1115.6 L1119.7,327.70000000000005 V337.1 a1.5,1.5 0 0 1 -1.5,1.5 H1107.8 a1.5,1.5 0 0 1 -1.5,-1.5 V325.1 a1.5,1.5 0 0 1 1.5,-1.5Z M1115.6,323.6 V326.6 a1.1,1.1 0 0 0 1.1,1.1 H1119.7" stroke="#b5b5b5" stroke-width="1.1" fill="none" stroke-linejoin="round"/><path d="M1109.8999999999999,330.20000000000005 L1115.8999999999999,336.6 M1115.8999999999999,330.20000000000005 L1109.8999999999999,336.6" stroke="#a8a8a8" stroke-width="1.3" fill="none"/>
<path d="M1131.6,324 V336.6 a1.6,1.6 0 0 0 1.6,1.6 H1146.0" stroke="#b3b3b3" stroke-width="1.2" fill="none" stroke-linecap="round"/><path d="M1134.0,331.4 V335.8" stroke="#aebfd6" stroke-width="1.1" fill="none"/><path d="M1136.9,329.6 V335.8" stroke="#c9b9a6" stroke-width="1.1" fill="none"/><path d="M1139.4,330.5 V335.8" stroke="#b3b3b3" stroke-width="1.1" fill="none"/><path d="M1142.2,327.4 V335.8" stroke="#a9c3dc" stroke-width="1.1" fill="none"/><path d="M1144.7,330.8 V335.8" stroke="#bdb3ad" stroke-width="1.1" fill="none"/>
<circle cx="1163.7" cy="330.2" r="6.4" stroke="#a8a8a8" stroke-width="1.3" fill="none"/><path d="M1168.3,334.9 L1171.9,338.4" stroke="#a8a8a8" stroke-width="1.4" stroke-linecap="round"/>
<path d="M1190.6000000000001,323.7 C1186.7,324.7 1186.3000000000002,328.3 1186.3000000000002,331.8 C1186.3000000000002,333.90000000000003 1185.1000000000001,334.7 1184.5,335.6 H1197.1000000000001 C1196.3000000000002,334.7 1195.2,333.90000000000003 1195.2,331.90000000000003" stroke="#86dff2" stroke-width="1.1" fill="none" stroke-dasharray="2.2 0.7" stroke-linecap="round"/><path d="M1190.6000000000001,323.7 C1192.5,324.1 1193.7,324.90000000000003 1194.3000000000002,326.1" stroke="#86dff2" stroke-width="1.1" fill="none" stroke-dasharray="2.2 0.7"/><path d="M1189.1000000000001,337.1 a1.8,1.8 0 0 0 3.4,0" stroke="#86dff2" stroke-width="1.1" fill="none"/><path d="M1195.1000000000001,325.5 v5.4 M1192.4,328.2 h5.4" stroke="#86dff2" stroke-width="1.1" fill="none" stroke-linecap="round"/>
<path d="M1212.6,329.6 H1224.6 L1219.6999999999998,333.8 V337.20000000000005 L1217.5,338.0 V333.8Z" stroke="#8f8f8f" stroke-width="1.0" fill="none" stroke-linejoin="round"/><circle cx="1215.4" cy="322.0" r="0.75" fill="#8f8f8f"/><circle cx="1218.5" cy="323.3" r="0.75" fill="#8f8f8f"/><circle cx="1215.7" cy="325.8" r="0.75" fill="#8f8f8f"/><circle cx="1221.3" cy="325.5" r="0.75" fill="#8f8f8f"/><circle cx="1218.5" cy="327.4" r="0.75" fill="#8f8f8f"/>
<circle cx="1239.4" cy="331.1" r="1.25" fill="#9a9a9a"/><circle cx="1244.4" cy="331.1" r="1.25" fill="#9a9a9a"/><circle cx="1249.4" cy="331.1" r="1.25" fill="#9a9a9a"/>
<path d="M551,664 V676.6 a1.6,1.6 0 0 0 1.6,1.6 H565.4" stroke="#b3b3b3" stroke-width="1.2" fill="none" stroke-linecap="round"/><path d="M553.4,671.4 V675.8" stroke="#aebfd6" stroke-width="1.1" fill="none"/><path d="M556.3,669.6 V675.8" stroke="#c9b9a6" stroke-width="1.1" fill="none"/><path d="M558.8,670.5 V675.8" stroke="#b3b3b3" stroke-width="1.1" fill="none"/><path d="M561.6,667.4 V675.8" stroke="#a9c3dc" stroke-width="1.1" fill="none"/><path d="M564.1,670.8 V675.8" stroke="#bdb3ad" stroke-width="1.1" fill="none"/>
<path d="M584.6,663.6999999999999 C580.6999999999999,664.6999999999999 580.3,668.3 580.3,671.8 C580.3,673.9 579.1,674.6999999999999 578.5,675.5999999999999 H591.1 C590.3,674.6999999999999 589.1999999999999,673.9 589.1999999999999,671.9" stroke="#86dff2" stroke-width="1.1" fill="none" stroke-dasharray="2.2 0.7" stroke-linecap="round"/><path d="M584.6,663.6999999999999 C586.5,664.0999999999999 587.6999999999999,664.9 588.3,666.0999999999999" stroke="#86dff2" stroke-width="1.1" fill="none" stroke-dasharray="2.2 0.7"/><path d="M583.1,677.0999999999999 a1.8,1.8 0 0 0 3.4,0" stroke="#86dff2" stroke-width="1.1" fill="none"/><path d="M589.1,665.5 v5.4 M586.4,668.1999999999999 h5.4" stroke="#86dff2" stroke-width="1.1" fill="none" stroke-linecap="round"/>
<path d="M606.2,669.6 H618.2 L613.3000000000001,673.8000000000001 V677.2 L611.1,678.0 V673.8000000000001Z" stroke="#8f8f8f" stroke-width="1.0" fill="none" stroke-linejoin="round"/><circle cx="609.0" cy="662.0" r="0.75" fill="#8f8f8f"/><circle cx="612.1" cy="663.3" r="0.75" fill="#8f8f8f"/><circle cx="609.3" cy="665.8" r="0.75" fill="#8f8f8f"/><circle cx="614.9" cy="665.5" r="0.75" fill="#8f8f8f"/><circle cx="612.1" cy="667.4" r="0.75" fill="#8f8f8f"/>
<circle cx="632.9" cy="671.2" r="1.25" fill="#9a9a9a"/><circle cx="637.9" cy="671.2" r="1.25" fill="#9a9a9a"/><circle cx="642.9" cy="671.2" r="1.25" fill="#9a9a9a"/>
</svg>
<div class="ptitle" style="left:70px;top:662.6px;font-size:11.6px;color:#2e2e32;transform:scaleX(0.927);transform-origin:0 0">GEO US</div>
<svg class="abs" style="left:57px;top:686px" width="601" height="34" viewBox="57 686 601 34">
<rect x="57" y="686" width="601" height="34" fill="#f1f1f1"/>
<rect x="57" y="686" width="36" height="34" fill="#f5f5f5"/><path d="M304,686 H365.5 L349.5,720 H297Z" fill="#f5f5f5"/>
<!-- darker patches / water -->
<g fill="#dfe0e2">
<path d="M148,686 H203 L197,692 L185,697 L170,701 L160,699 L152,692Z"/>
<path d="M196,700 C204,698 214,700 219,704 C223,709 219,714 212,716 C208,717 204,720 203,720 H196 C201,715 210,712 212,708 C210,704 202,705 197,704Z"/>
<path d="M165,711 H180 L176,716 H166Z"/>
</g>
<g fill="#d6d9dc">
<path d="M286,686 H304 L301,700 L297,720 H279 L284,702Z"/>
<path d="M365.5,686 H375.5 L359.5,720 H349.5Z"/>
</g>

<!-- roads -->
<g stroke="#f9f9f9" fill="none" stroke-width="1.2">
<path d="M95,720 C100,705 112,695 118,686"/><path d="M105,686 C108,700 110,710 108,720"/><path d="M108,706 C130,712 160,710 175,700 C190,692 210,690 235,688"/>
<path d="M125,686 C122,698 128,712 140,720"/><path d="M165,720 C168,705 172,695 175,686"/><path d="M175,686 C180,695 186,703 196,720"/>
<path d="M170,720 C185,705 200,694 222,692 C235,690 245,690 256,688"/><path d="M226,686 C229,695 231,700 230,706"/><path d="M240,720 C245,705 252,695 262,686"/>
<path d="M305,720 L312,686"/><path d="M318,720 L328,686"/><path d="M338,686 L300,700"/><path d="M380,720 L392,686"/><path d="M360,690 L420,705 L470,712"/><path d="M395,686 L420,720"/><path d="M445,686 L470,720"/>
<path d="M480,686 L498,720"/><path d="M515,720 L522,700 L518,686"/><path d="M540,686 L600,720"/><path d="M575,686 L585,720"/><path d="M585,720 C600,705 625,698 640,686"/><path d="M615,686 L640,706 L658,700"/><path d="M640,706 L632,720"/><path d="M650,686 L658,694"/>
</g>
<!-- clusters -->
<g>
<circle cx="332.5" cy="707.4" r="16" fill="#f0b59a" fill-opacity="0.9"/><circle cx="332.5" cy="707.4" r="12.2" fill="#e58b50"/>
<circle cx="426.6" cy="691.8" r="16.2" fill="#f0b59a" fill-opacity="0.9"/><circle cx="426.6" cy="691.8" r="12.3" fill="#e58b50"/>
<circle cx="505.8" cy="691.4" r="16" fill="#f0b59a" fill-opacity="0.9"/><circle cx="505.8" cy="691.4" r="12.2" fill="#e58b50"/>
<circle cx="586.2" cy="675.4" r="16" fill="#f0b59a" fill-opacity="0.9"/><circle cx="586.2" cy="675.4" r="12.2" fill="#e58b50"/>
<circle cx="637" cy="731" r="16" fill="#f1f19a" fill-opacity="0.9"/><circle cx="637" cy="731" r="12.2" fill="#e7e65a"/>
</g>
<g font-family="Liberation Sans, sans-serif" font-size="9.9" fill="#4a4a4a" text-anchor="middle">
<text x="332.5" y="710.9">3878</text><text x="426.4" y="695.7">546</text><text x="505.8" y="695.3">308</text>
</g>
<path d="M578,687.5 h2 M581.5,687.5 h2 M585,687.5 h2 M588.5,687.5 h2" stroke="#e6a23a" stroke-width="1.6"/>
<!-- zoom control -->
<rect x="65.7" y="695.2" width="27.5" height="32" rx="3.5" fill="#fcfcfc" stroke="#c9c9c9" stroke-width="1.6"/>
<path d="M75,708.2 H85.4 M80.2,703 V713.4" stroke="#111" stroke-width="1.9"/>
</svg>

<div class="ptitle" style="left:676px;top:662.6px;font-size:11.5px;color:#6b10c8;transform:scaleX(0.885);transform-origin:0 0">SASSY</div>
<div class="abs" style="left:667px;top:687.5px;width:597px;height:19.2px;background:#66788f"></div>
<div class="abs" style="left:810.5px;top:687.5px;width:1px;height:19.2px;background:#aab4c0"></div>
<div class="abs" style="left:956.5px;top:687.5px;width:1px;height:19.2px;background:#aab4c0"></div>
<div class="abs" style="left:1102.5px;top:687.5px;width:1px;height:19.2px;background:#aab4c0"></div>
<div class="abs" style="left:1248.5px;top:687.5px;width:1px;height:19.2px;background:#aab4c0"></div>
<div class="abs" style="left:810.5px;top:706px;width:1px;height:14px;background:#e3e3e3"></div>
<div class="abs" style="left:956.5px;top:706px;width:1px;height:14px;background:#e3e3e3"></div>
<div class="abs" style="left:1102.5px;top:706px;width:1px;height:14px;background:#e3e3e3"></div>
<div class="abs" style="left:1248.5px;top:706px;width:1px;height:14px;background:#e3e3e3"></div>
<div class="abs sh" style="left:668px;top:689.6px">address</div>
<div class="abs sh" style="left:812.5px;top:689.6px">cuisine</div>
<div class="abs sh" style="left:958px;top:689.6px">name</div>
<div class="abs sh" style="left:1104.5px;top:689.6px">restaurant_id</div>
<div class="abs sd" style="left:671px;top:711.9px;width:139px;overflow:hidden">{"building":"","coord":[-99.178318,19.35</div>
<div class="abs sd" style="left:816px;top:711.9px">Other</div>
<div class="abs sd" style="left:962.5px;top:711.9px">Dunkin Donuts</div>
<div class="abs sd" style="left:1107.5px;top:711.9px">50011337</div>
<div class="abs" style="left:1257.5px;top:708px;width:6px;height:14px;background:#c4c4c4"></div>

<svg class="abs" style="left:0;top:0" width="1280" height="720" viewBox="0 0 1280 720"><path d="M647.9,305.1 L654.4,298.6 V305.1Z" fill="#5fa9e2" opacity="0.85"/><path d="M1254.8,305.1 L1261.3,298.6 V305.1Z" fill="#5fa9e2" opacity="0.85"/><path d="M647.9,645.1 L654.4,638.6 V645.1Z" fill="#5fa9e2" opacity="0.85"/><path d="M1254.8,645.1 L1261.3,638.6 V645.1Z" fill="#5fa9e2" opacity="0.85"/></svg>
<div class="abs" style="left:1265px;top:0;width:15px;height:720px;background:#eff0ef"></div>
<div class="abs" style="left:1267.2px;top:201px;width:11.4px;height:272.8px;background:#c0c1c0"></div>
<svg class="abs" style="left:1265px;top:0" width="15" height="720"><path d="M4.3 9.7 L7.8 6.1 L11.3 9.7Z" fill="#505050"/><path d="M4.3 709.7 L11.3 709.7 L7.8 713.6Z" fill="#505050"/></svg>
</div>
</body>
</html>
